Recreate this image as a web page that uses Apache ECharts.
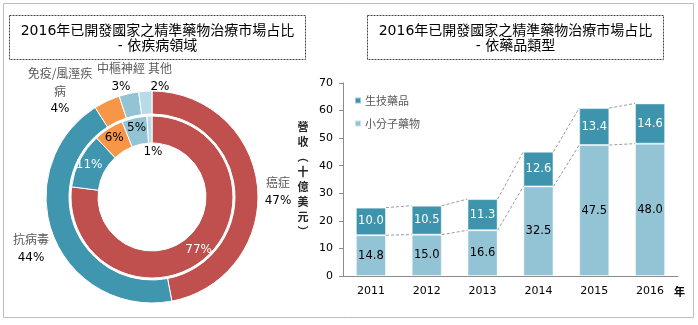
<!DOCTYPE html>
<html><head><meta charset="utf-8">
<script src="https://cdn.jsdelivr.net/npm/echarts@6/dist/echarts.min.js"></script>
<style>html,body{margin:0;padding:0;background:#fff}#c{width:698px;height:325px}</style>
</head><body><div id="c"></div>
<script>
// ---- data ----
const diseaseNames = ['癌症', '抗病毒', '免疫/風溼疾病', '中樞神經', '其他'];
const diseaseLabelLines = [['癌症'], ['抗病毒'], ['免疫/風溼疾', '病'], ['中樞神經'], ['其他']];
const outerShare = [47, 44, 4, 3, 2];
const innerShare = [77, 11, 6, 5, 1];
const years = ['2011', '2012', '2013', '2014', '2015', '2016'];
const smallMolecule = [14.8, 15.0, 16.6, 32.5, 47.5, 48.0];
const biologics = [10.0, 10.5, 11.3, 12.6, 13.4, 14.6];
const seriesNames = ['生技藥品', '小分子藥物'];
const titleLine1 = '2016年已開發國家之精準藥物治療市場占比';
const leftSubtitle = '- 依疾病領域';
const rightSubtitle = '- 依藥品類型';
const yAxisName = '營\n收\n︵\n十\n億\n美\n元\n︶';
const xAxisName = '年';

// ---- styles ----
const pieColors = ['#C0504D', '#3F96AE', '#F79646', '#92C4D6', '#B9DBE7'];
const barTop = '#3D94AC', barBottom = '#93C4D6';
const numFont = "'DejaVu Sans', 'Noto Sans CJK TC', sans-serif";
const cjkFont = "'Noto Sans CJK TC', 'DejaVu Sans', sans-serif";
const BAR_FRAC = 0.54;

// outer label positions (label layout only)
const outerLabelPos = [
  {x: 278, y: 191.5}, {x: 31, y: 248.5}, {x: 60, y: 91}, {x: 121, y: 77.5}, {x: 160, y: 77.5}
];

const chart = echarts.init(document.getElementById('c'), null, {renderer: 'canvas'});

const totals = smallMolecule.map((v, i) => v + biologics[i]);

const option = {
  animation: false,
  textStyle: {fontFamily: cjkFont},
  graphic: [
    {type: 'rect', shape: {x: 3.5, y: 3.5, width: 690, height: 314}, style: {fill: 'none', stroke: '#BDBDBD', lineWidth: 1}},
    {type: 'rect', shape: {x: 9.5, y: 15.5, width: 296, height: 44}, style: {fill: '#fff', stroke: '#444', lineWidth: 1, lineDash: [2, 1]}},
    {type: 'rect', shape: {x: 367.5, y: 15.5, width: 296, height: 44}, style: {fill: '#fff', stroke: '#444', lineWidth: 1, lineDash: [2, 1]}},
    {type: 'text', x: 157.5, y: 31.5, style: {text: titleLine1, fill: '#000', font: "14px " + numFont, align: 'center', verticalAlign: 'middle'}},
    {type: 'text', x: 157.5, y: 46, style: {text: leftSubtitle, fill: '#000', font: "14px " + numFont, align: 'center', verticalAlign: 'middle'}},
    {type: 'text', x: 515.5, y: 31.5, style: {text: titleLine1, fill: '#000', font: "14px " + numFont, align: 'center', verticalAlign: 'middle'}},
    {type: 'text', x: 515.5, y: 46, style: {text: rightSubtitle, fill: '#000', font: "14px " + numFont, align: 'center', verticalAlign: 'middle'}}
  ],
  legend: {
    orient: 'vertical', left: 349, top: 90, itemGap: 12, itemWidth: 6, itemHeight: 6, icon: 'rect',
    data: seriesNames,
    textStyle: {fontSize: 11, color: '#595959', fontFamily: cjkFont, padding: [0, 0, 0, -1]}
  },
  grid: {left: 343, right: 20, top: 83, bottom: 49, containLabel: false},
  xAxis: {
    type: 'category', data: years,
    name: xAxisName, nameLocation: 'end', nameGap: -4,
    nameTextStyle: {fontSize: 11, color: '#000', fontWeight: 'bold', verticalAlign: 'top', padding: [10, 0, 0, 0], fontFamily: cjkFont},
    axisLine: {lineStyle: {color: '#8C8C8C'}},
    axisTick: {show: false},
    axisLabel: {fontSize: 11, color: '#000', margin: 10, fontFamily: numFont}
  },
  yAxis: {
    type: 'value', min: 0, max: 70, interval: 10,
    name: yAxisName, nameLocation: 'middle', nameRotate: 0, nameGap: 40,
    nameTextStyle: {fontSize: 11, color: '#262626', fontWeight: 'bold', lineHeight: 15, fontFamily: cjkFont, align: 'center', verticalAlign: 'middle', padding: [8, 0, 0, 0]},
    axisLine: {show: true, lineStyle: {color: '#8C8C8C'}},
    axisTick: {show: true, inside: false, length: 4, lineStyle: {color: '#8C8C8C'}},
    splitLine: {show: false},
    axisLabel: {fontSize: 11, color: '#000', margin: 10, fontFamily: numFont}
  },
  series: [
    {
      type: 'pie', name: 'outer', center: [152, 197], radius: [83, 106], startAngle: 90, clockwise: true,
      avoidLabelOverlap: false, silent: true,
      itemStyle: {borderColor: '#fff', borderWidth: 1},
      labelLine: {show: false},
      label: {
        show: true, position: 'outside',
        formatter: p => diseaseLabelLines[p.dataIndex].map(s => '{n|' + s + '}').join('\n') + '\n{p|' + p.value + '%}',
        rich: {
          n: {fontSize: 12, color: '#595959', fontFamily: cjkFont, lineHeight: 18, align: 'center'},
          p: {fontSize: 12, color: '#000', fontFamily: numFont, lineHeight: 18, align: 'center'}
        }
      },
      labelLayout: p => ({x: outerLabelPos[p.dataIndex].x, y: outerLabelPos[p.dataIndex].y, align: 'center', verticalAlign: 'middle'}),
      data: diseaseNames.map((n, i) => ({name: n, value: outerShare[i], itemStyle: {color: pieColors[i]}}))
    },
    {
      type: 'pie', name: 'inner', center: [152, 197], radius: [54, 81], startAngle: 90, clockwise: true,
      avoidLabelOverlap: false, silent: true,
      itemStyle: {borderColor: '#fff', borderWidth: 1},
      labelLine: {show: false},
      label: {
        show: true, position: 'inside', formatter: '{c}%', fontSize: 12, fontFamily: numFont
      },
      labelLayout: p => (p.dataIndex === 4 ? {x: 153, y: 152, align: 'center', verticalAlign: 'middle'} : {}),
      data: diseaseNames.map((n, i) => ({
        name: n, value: innerShare[i], itemStyle: {color: pieColors[i]},
        label: {color: i < 2 ? '#fff' : '#000'}
      }))
    },
    {
      type: 'custom', name: 'connectors', silent: true, z: 1,
      data: years.slice(0, -1).map((y, i) => [i]),
      renderItem: (params, api) => {
        const i = params.dataIndex;
        const bw = api.size([1, 0])[0] * BAR_FRAC;
        const a1 = api.coord([i, smallMolecule[i]]), b1 = api.coord([i + 1, smallMolecule[i + 1]]);
        const a2 = api.coord([i, totals[i]]), b2 = api.coord([i + 1, totals[i + 1]]);
        const st = {stroke: '#9A9A9A', lineWidth: 1, lineDash: [3, 2]};
        return {type: 'group', children: [
          {type: 'line', shape: {x1: a1[0] + bw / 2, y1: a1[1], x2: b1[0] - bw / 2, y2: b1[1]}, style: st},
          {type: 'line', shape: {x1: a2[0] + bw / 2, y1: a2[1], x2: b2[0] - bw / 2, y2: b2[1]}, style: st}
        ]};
      }
    },
    {
      type: 'bar', name: seriesNames[1], stack: 'total', data: smallMolecule, barWidth: (BAR_FRAC * 100) + '%',
      itemStyle: {color: barBottom, borderColor: 'rgba(255,255,255,0.5)', borderWidth: 1},
      label: {show: true, position: 'inside', formatter: p => p.value.toFixed(1), color: '#000', fontSize: 11.5, fontFamily: numFont},
      z: 2
    },
    {
      type: 'bar', name: seriesNames[0], stack: 'total', data: biologics, barWidth: (BAR_FRAC * 100) + '%',
      itemStyle: {color: barTop, borderColor: 'rgba(255,255,255,0.5)', borderWidth: 1},
      label: {show: true, position: 'inside', formatter: p => p.value.toFixed(1), color: '#fff', fontSize: 11.5, fontFamily: numFont},
      z: 2
    }
  ]
};
chart.setOption(option);
</script>
</body></html>
